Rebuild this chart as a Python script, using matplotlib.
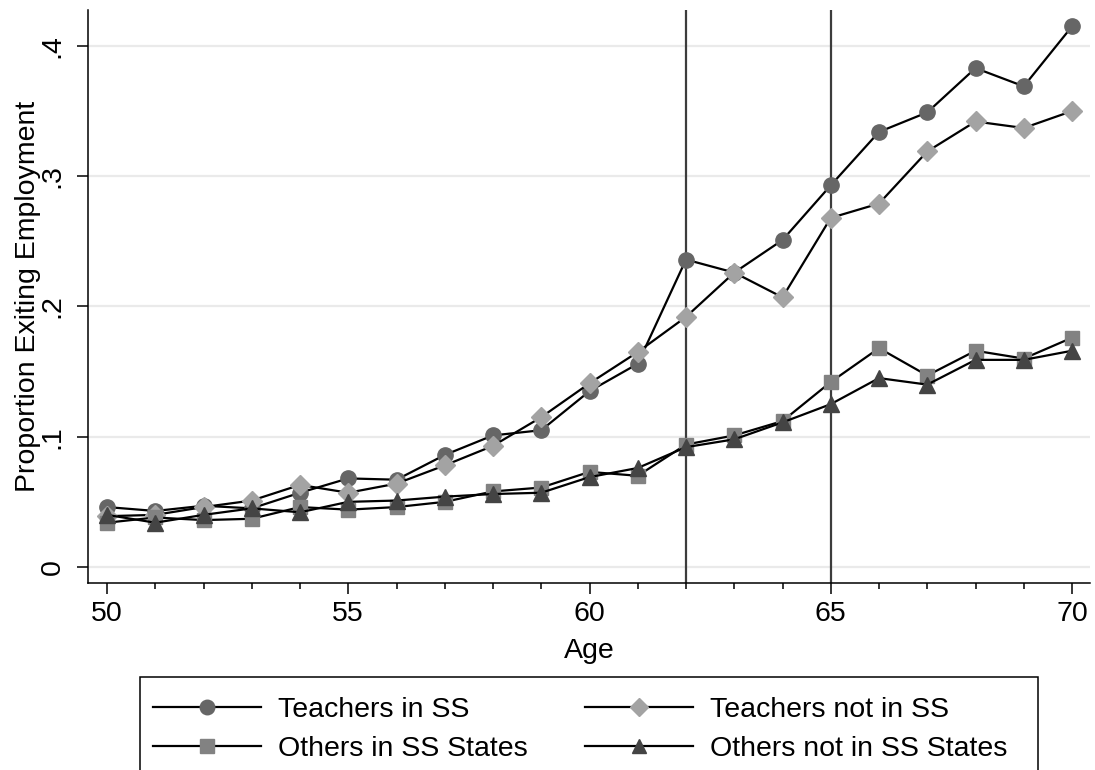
import matplotlib
matplotlib.use("Agg")
import matplotlib.pyplot as plt
from matplotlib.patches import Rectangle
from matplotlib.ticker import MultipleLocator, FixedLocator
import numpy as np

plt.rcParams['font.family'] = ['Liberation Sans', 'DejaVu Sans']

ages = list(range(50, 71))
teach_ss = [0.046, 0.043, 0.047, 0.045, 0.057, 0.068, 0.067, 0.086, 0.101, 0.105, 0.135,
            0.156, 0.236, 0.226, 0.251, 0.293, 0.334, 0.349, 0.383, 0.369, 0.415]
teach_not = [0.039, 0.040, 0.046, 0.051, 0.063, 0.057, 0.064, 0.078, 0.093, 0.115, 0.141,
             0.165, 0.192, 0.226, 0.207, 0.268, 0.279, 0.319, 0.342, 0.337, 0.350]
others_ss = [0.034, 0.038, 0.036, 0.037, 0.046, 0.044, 0.046, 0.050, 0.058, 0.061, 0.073,
             0.070, 0.094, 0.101, 0.112, 0.142, 0.168, 0.147, 0.166, 0.160, 0.176]
others_not = [0.040, 0.034, 0.040, 0.045, 0.042, 0.050, 0.051, 0.054, 0.056, 0.057, 0.069,
              0.076, 0.092, 0.098, 0.111, 0.125, 0.145, 0.140, 0.159, 0.159, 0.166]
labels = ["Teachers in SS", "Teachers not in SS", "Others in SS States", "Others not in SS States"]
y_ticks = [0, 0.1, 0.2, 0.3, 0.4]
y_ticklabels = ["0", ".1", ".2", ".3", ".4"]
x_ticks = [50, 55, 60, 65, 70]
vlines = [62, 65]

W, H = 1095, 770
fig = plt.figure(figsize=(W / 100, H / 100), dpi=100)
ax = fig.add_axes([88 / W, 1 - 583 / H, (1090 - 88) / W, (583 - 10) / H])

fs = 20.5
for v in vlines:
    ax.axvline(v, color='#3c3c3c', lw=1.6, zorder=1)

series = [
    (teach_ss, 'o', '#666666', 11),
    (teach_not, 'D', '#a3a3a3', 10),
    (others_ss, 's', '#828282', 10.5),
    (others_not, '^', '#444444', 11),
]
for (vals, mk, col, ms), lab in zip(series, labels):
    ax.plot(ages, vals, color='black', lw=1.6, marker=mk, markersize=ms,
            markerfacecolor=col, markeredgecolor=col, label=lab, zorder=3)

ax.set_xlim(49.606, 70.373)
ax.set_ylim(-0.0123, 0.4276)
ax.yaxis.set_major_locator(FixedLocator(y_ticks))
ax.set_yticklabels(y_ticklabels)
ax.xaxis.set_major_locator(FixedLocator(x_ticks))
ax.xaxis.set_minor_locator(MultipleLocator(1))
ax.grid(axis='y', color='#eaeaea', lw=1.6, zorder=0)
ax.set_axisbelow(True)
for s in ['top', 'right']:
    ax.spines[s].set_visible(False)
for s in ['left', 'bottom']:
    ax.spines[s].set_linewidth(1.1)
ax.tick_params(axis='both', which='major', length=8, width=1.1, labelsize=fs, direction='out')
ax.tick_params(axis='x', which='minor', length=4.5, width=1.1)
ax.tick_params(axis='x', which='major', pad=5)
ax.tick_params(axis='y', which='major', pad=8, labelrotation=90)
for t in ax.get_yticklabels():
    t.set_va('center')
ax.set_xlabel("Age", fontsize=fs, labelpad=8)
ax.set_ylabel("Proportion Exiting Employment", fontsize=fs, labelpad=-1)

# legend (row-major order like the reference: reorder for matplotlib's column-major fill)
leg_handles = []
for (vals, mk, col, ms) in series:
    leg_handles.append(plt.Line2D([], [], color='black', lw=1.6, marker=mk, markersize=ms * 0.95,
                                  markerfacecolor=col, markeredgecolor=col))
order = [0, 2, 1, 3]
fig.legend([leg_handles[i] for i in order], [labels[i] for i in order], ncol=2, loc='upper left',
           bbox_to_anchor=(153 / W, 1 - 697 / H), frameon=False, fontsize=fs,
           borderpad=0, borderaxespad=0, handlelength=3.8, handletextpad=0.6,
           columnspacing=2.0, labelspacing=0.46, numpoints=1)
fig.add_artist(Rectangle((140 / W, -0.05), (1038 - 140) / W, (770 - 677) / H + 0.05,
                         transform=fig.transFigure, fill=False, edgecolor='black', lw=1.1))

fig.savefig("out.png", dpi=100)
